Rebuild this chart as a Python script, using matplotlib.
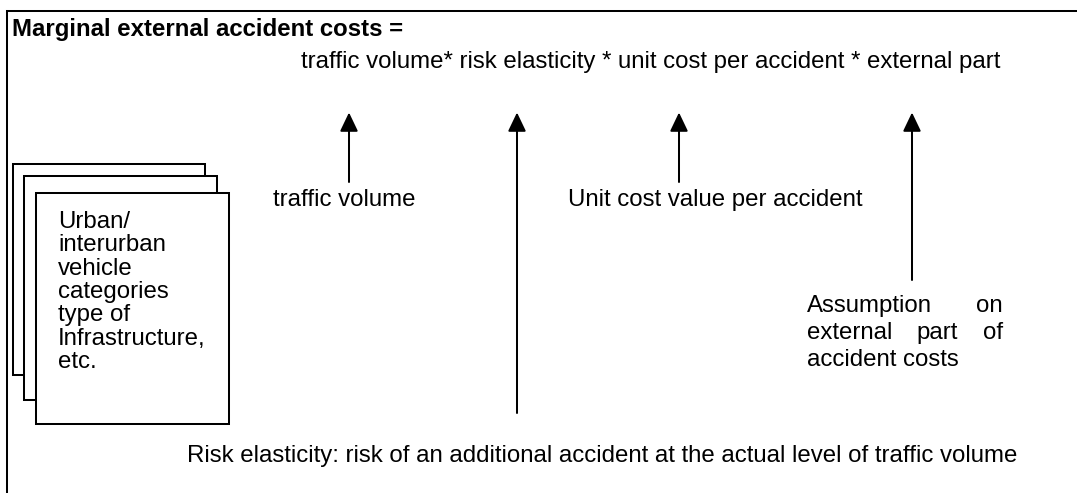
import matplotlib

matplotlib.use("Agg")
import matplotlib.pyplot as plt
from matplotlib.patches import FancyArrowPatch, Rectangle

plt.rcParams["font.family"] = ["Liberation Sans", "DejaVu Sans"]

# text content of the diagram
TITLE = "Marginal external accident costs ="
FORMULA = "traffic volume* risk elasticity * unit cost per accident * external part"
ARROW_LABELS = ["traffic volume", "Unit cost value per accident"]
BOX_LINES = ["Urban/", "interurban", "vehicle", "categories", "type of",
             "Infrastructure,", "etc."]
ASSUMPTION_LINES = [["Assumption", "on"], ["external", "part", "of"],
                    ["accident", "costs"]]
RISK_NOTE = ("Risk elasticity: risk of an additional accident at the actual "
             "level of traffic volume")

W, H = 1077, 493
FS = 17.3
LW = 1.45


def arrow(ax, x, y0, y1):
    ax.add_patch(FancyArrowPatch((x, y0), (x, y1),
                                 arrowstyle="-|>,head_length=1.15,head_width=0.55",
                                 mutation_scale=10, lw=LW, color="black",
                                 shrinkA=0, shrinkB=0))


def justify(ax, fig, words, x0, x1, y, last=False):
    # spread the words of one line over x0..x1, like justified text
    rend = fig.canvas.get_renderer()
    texts = [ax.text(0, y, w, fontsize=FS, va="baseline", ha="left") for w in words]
    widths = [t.get_window_extent(rend).width for t in texts]
    if last or len(words) == 1:
        gap = fig.dpi * FS / 72 * 0.278
    else:
        gap = (x1 - x0 - sum(widths)) / (len(words) - 1)
    x = x0
    for t, w in zip(texts, widths):
        t.set_x(x)
        x += w + gap


def main():
    fig = plt.figure(figsize=(W / 100, H / 100), dpi=100, facecolor="white")
    ax = fig.add_axes([0, 0, 1, 1])
    ax.set_xlim(0, W)
    ax.set_ylim(H, 0)
    ax.set_axis_off()

    # outer frame (only top and left edges visible)
    ax.plot([6.5, W + 5], [10.5, 10.5], color="black", lw=LW, solid_capstyle="projecting")
    ax.plot([6.5, 6.5], [10.5, H + 5], color="black", lw=LW, solid_capstyle="projecting")

    ax.text(12, 36, TITLE, fontsize=FS, fontweight="bold", va="baseline", ha="left")
    ax.text(301, 68, FORMULA, fontsize=FS, va="baseline", ha="left")

    # stacked cards
    for (x0, y0, x1, y1) in [(13, 164, 205, 375), (24, 176, 217, 400), (36, 193, 229, 424)]:
        ax.add_patch(Rectangle((x0, y0), x1 - x0, y1 - y0, facecolor="white",
                               edgecolor="black", lw=LW))
    for i, line in enumerate(BOX_LINES):
        ax.text(58, 228 + i * 23.3, line, fontsize=FS, va="baseline", ha="left")

    # arrows pointing up to the formula terms
    for x, y0 in [(349, 182), (517, 413), (679, 182), (912, 280)]:
        arrow(ax, x, y0, 112.5)

    ax.text(273, 206, ARROW_LABELS[0], fontsize=FS, va="baseline", ha="left")
    ax.text(568, 206, ARROW_LABELS[1], fontsize=FS, va="baseline", ha="left")

    for i, words in enumerate(ASSUMPTION_LINES):
        justify(ax, fig, words, 807, 1003, 312 + i * 27,
                last=(i == len(ASSUMPTION_LINES) - 1))

    ax.text(187, 462, RISK_NOTE, fontsize=FS, va="baseline", ha="left")

    fig.savefig("out.png", dpi=100, facecolor="white")
    plt.close(fig)


if __name__ == "__main__":
    main()
